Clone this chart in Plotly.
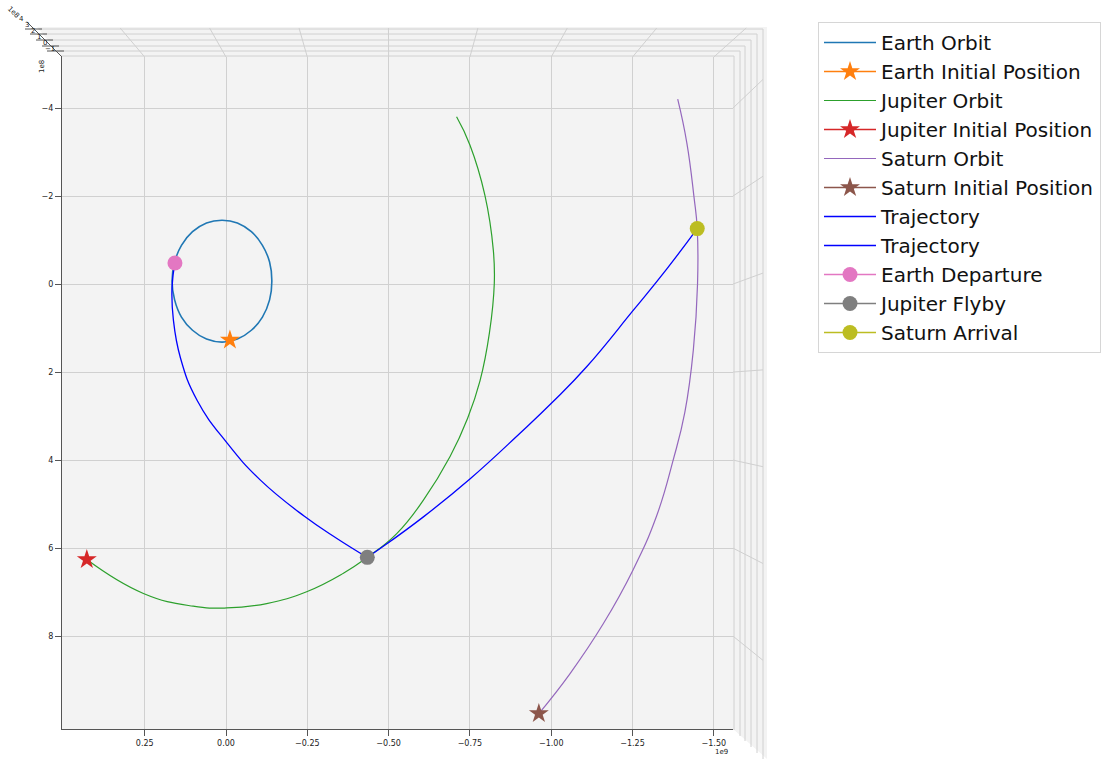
import plotly.graph_objects as go

UNIT = 1e8  # km

# ---- data (units of 1e8 km) ----
earth_orbit_x = [-1.41, -1.34, -1.12, -0.78, -0.35, 0.12, 0.60, 1.03, 1.37, 1.58, 1.66,
                 1.58, 1.37, 1.03, 0.60, 0.12, -0.35, -0.78, -1.12, -1.34, -1.41]
earth_orbit_y = [-0.07, -0.50, -0.88, -1.19, -1.39, -1.45, -1.39, -1.19, -0.88, -0.50, -0.07,
                 0.36, 0.75, 1.05, 1.25, 1.32, 1.25, 1.05, 0.75, 0.36, -0.07]

jupiter_orbit_x = [4.28, 2.54, 1.01, -0.02, -1.25, -2.48, -3.61, -4.345, -5.25, -6.07, -6.89,
                   -7.43, -7.81, -8.10, -8.25, -8.22, -7.96, -7.50, -7.09]
jupiter_orbit_y = [6.26, 7.03, 7.32, 7.36, 7.26, 6.99, 6.57, 6.21, 5.67, 4.91, 3.92,
                   3.05, 2.20, 1.11, -0.02, -0.77, -2.02, -3.16, -3.80]

saturn_orbit_x = [-9.62, -10.58, -11.60, -12.52, -13.24, -13.75, -14.11, -14.37, -14.50,
                  -14.49, -14.39, -14.17, -13.89]
saturn_orbit_y = [9.76, 8.85, 7.72, 6.49, 5.27, 4.00, 2.91, 1.50, -0.01,
                  -1.26, -1.98, -3.21, -4.20]

traj1_x = [1.57, 1.66, 1.62, 1.40, 0.89, -0.03, -1.05, -2.40, -3.41, -4.345]
traj1_y = [-0.48, 0.07, 0.80, 1.68, 2.64, 3.61, 4.45, 5.27, 5.78, 6.21]

traj2_x = [-4.345, -4.74, -6.07, -7.50, -9.04, -10.06, -11.09, -12.52, -13.55, -14.49]
traj2_y = [6.21, 6.01, 5.29, 4.43, 3.39, 2.67, 1.88, 0.60, -0.34, -1.26]

earth_init = (-0.12, 1.27)
jupiter_init = (4.28, 6.26)
saturn_init = (-9.62, 9.76)
earth_departure = (1.57, -0.48)
jupiter_flyby = (-4.345, 6.21)
saturn_arrival = (-14.49, -1.26)

x_tick_vals = [0.25e9, 0.0, -0.25e9, -0.5e9, -0.75e9, -1.0e9, -1.25e9, -1.5e9]
x_tick_text = ["0.25", "0.00", "\u22120.25", "\u22120.50", "\u22120.75", "\u22121.00", "\u22121.25", "\u22121.50"]
y_tick_vals = [-4e8, -2e8, 0, 2e8, 4e8, 6e8, 8e8]
y_tick_text = ["\u22124", "\u22122", "0", "2", "4", "6", "8"]
z_tick_text = ["4", "3", "2", "1", "0", "\u22121"]

def sc(a):
    return [v * UNIT for v in a]

fig = go.Figure()

def line(name, xs, ys, color, width=1.2):
    fig.add_trace(go.Scatter(x=sc(xs), y=sc(ys), mode="lines", name=name,
                             line=dict(color=color, width=width, shape="spline", smoothing=1.3)))

def point(name, pt, color, symbol, size):
    fig.add_trace(go.Scatter(x=[pt[0] * UNIT], y=[pt[1] * UNIT], mode="lines+markers", name=name,
                             line=dict(color=color, width=1.5),
                             marker=dict(color=color, symbol=symbol, size=size, line=dict(width=0))))

line("Earth Orbit", earth_orbit_x, earth_orbit_y, "#1f77b4", 1.6)
point("Earth Initial Position", earth_init, "#ff7f0e", "star", 15)
line("Jupiter Orbit", jupiter_orbit_x, jupiter_orbit_y, "#2ca02c")
point("Jupiter Initial Position", jupiter_init, "#d62728", "star", 15)
line("Saturn Orbit", saturn_orbit_x, saturn_orbit_y, "#9467bd")
point("Saturn Initial Position", saturn_init, "#8c564b", "star", 15)
line("Trajectory", traj1_x, traj1_y, "#0000ff", 1.3)
line("Trajectory", traj2_x, traj2_y, "#0000ff", 1.3)
point("Earth Departure", earth_departure, "#e377c2", "circle", 15)
point("Jupiter Flyby", jupiter_flyby, "#7f7f7f", "circle", 15)
point("Saturn Arrival", saturn_arrival, "#bcbd22", "circle", 15)

W, H = 1102, 759
ML, MR, MT, MB = 62, 369, 57, 30
PW, PH = W - ML - MR, H - MT - MB
XR = [5.043e8, -15.59e8]
YR = [10.11e8, -5.159e8]

def px_x(v):
    return ML + (v - XR[0]) / (XR[1] - XR[0]) * PW

def px_y(v):
    return (H - MB) - (v - YR[0]) / (YR[1] - YR[0]) * PH

def P(px, py):
    return (px - ML) / PW, (H - MB - py) / PH

shapes = []
GRID = "#d0d0d0"

def seg(p1, p2, color=GRID, width=1):
    a = P(*p1)
    b = P(*p2)
    shapes.append(dict(type="line", xref="paper", yref="paper", x0=a[0], y0=a[1], x1=b[0], y1=b[1],
                       line=dict(color=color, width=width), layer="below"))

# 3D pane background (top and right strips)
pts = [(62, 57), (37, 27), (767, 27), (767, 759), (733, 729), (733, 57)]
path = "M " + " L ".join("%f,%f" % P(*p) for p in pts) + " Z"
shapes.append(dict(type="path", xref="paper", yref="paper", path=path,
                   fillcolor="#f3f3f3", line=dict(width=0), layer="below"))

# stacked pane edges (z grid)
levels = [(29, 763), (34, 757), (40, 751), (46, 745), (51, 740), (56, 734)]
for (yy, xr_) in levels:
    xl = 62 - (57 - yy) * 25 / 30
    seg((xl, yy), (xr_, yy))
    seg((xr_, yy), (xr_, 729 + (xr_ - 733)))

# perspective extension of x grid lines on top pane
for v in x_tick_vals:
    x0 = px_x(v)
    seg((x0, 57), (390 + (x0 - 390) * 1.1, 28))
# perspective extension of y grid lines on right pane
for v in y_tick_vals:
    y0 = px_y(v)
    seg((733, y0), (763, 284 + (y0 - 284) * 1.1 - 11))

# z axis diagonal and ticks
seg((62, 57), (27, 22), "#555555", 1)
for (yy, xr_) in levels[:5]:
    xc = 62 - (57 - yy)
    seg((xc - 9, yy), (xc + 8, yy), "#555555", 1)

annotations = []
def txt(px, py, s, size=8, angle=0, xanchor="center"):
    a = P(px, py)
    annotations.append(dict(xref="paper", yref="paper", x=a[0], y=a[1], text=s, showarrow=False,
                            textangle=angle, xanchor=xanchor, yanchor="middle",
                            font=dict(family="DejaVu Sans", size=size, color="#222222")))

txt(721, 752, "1e9", size=7)
txt(42, 67, "1e8", size=7, angle=-90)
txt(13, 12, "1e8", size=7, angle=45)
z_pos = [(21, 19), (27, 25), (33, 31), (39, 37), (45, 43), (50, 49)]
for (zx, zy), t in zip(z_pos, z_tick_text):
    txt(zx, zy, t, size=7)

fig.update_layout(
    width=W, height=H,
    margin=dict(l=ML, r=MR, t=MT, b=MB, autoexpand=False),
    paper_bgcolor="white",
    plot_bgcolor="#f3f3f3",
    font=dict(family="DejaVu Sans", color="#222222"),
    shapes=shapes,
    annotations=annotations,
    legend=dict(x=(818 - ML) / PW, y=(H - MB - 22) / PH, xanchor="left", yanchor="top",
                bgcolor="white", bordercolor="#d6d6d6", borderwidth=1,
                font=dict(family="DejaVu Sans", size=20, color="#111111"),
                tracegroupgap=0, itemsizing="trace", itemwidth=52),
    xaxis=dict(range=XR, tickvals=x_tick_vals, ticktext=x_tick_text, showgrid=True,
               gridcolor=GRID, gridwidth=1, zeroline=False, showline=True, linecolor="#555555",
               linewidth=1, ticks="outside", ticklen=6, tickcolor="#555555",
               tickfont=dict(family="DejaVu Sans", size=8, color="#222222")),
    yaxis=dict(range=YR, tickvals=y_tick_vals, ticktext=y_tick_text, showgrid=True,
               gridcolor=GRID, gridwidth=1, zeroline=False, showline=True, linecolor="#555555",
               linewidth=1, ticks="outside", ticklen=6, tickcolor="#555555",
               tickfont=dict(family="DejaVu Sans", size=8, color="#222222")),
)

fig.write_html("out.html")
